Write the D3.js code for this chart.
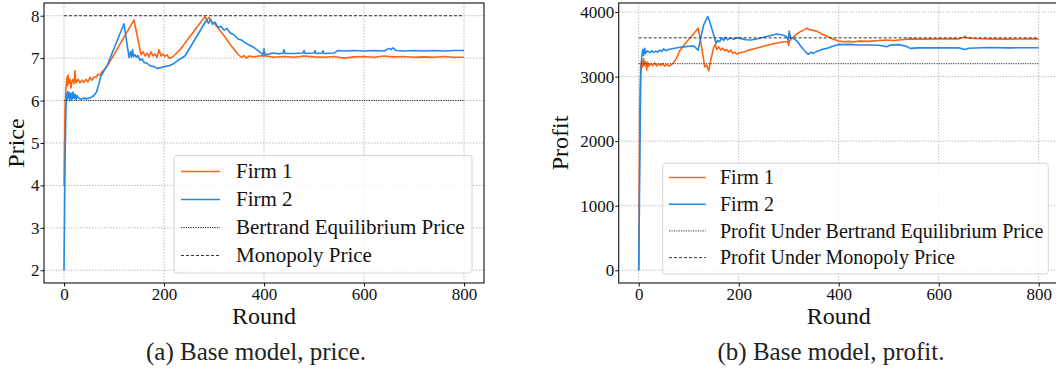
<!DOCTYPE html>
<html><head><meta charset="utf-8">
<script src="https://cdn.jsdelivr.net/npm/d3@7/dist/d3.min.js"></script>
<style>
html,body{margin:0;padding:0;background:#fff;}
svg{display:block;font-family:"Liberation Serif","Times New Roman",serif;}
svg text{font-family:"Liberation Serif","Times New Roman",serif;}
</style></head>
<body>
<svg id="chart" width="1056" height="371"></svg>
<script>
// ---------- DATA ----------
const roundTicks = [0, 200, 400, 600, 800];
const priceTicks = [2, 3, 4, 5, 6, 7, 8];
const profitTicks = [0, 1000, 2000, 3000, 4000];
const seriesNames = ["Firm 1", "Firm 2"];
const priceRefNames = ["Bertrand Equilibrium Price", "Monopoly Price"];
const profitRefNames = ["Profit Under Bertrand Equilibrium Price", "Profit Under Monopoly Price"];
const bertrandPrice = 6, monopolyPrice = 8;
const bertrandProfit = 3200, monopolyProfit = 3600;
const lastRound = 800;

// [round, price]
const priceFirm1 = [[0,4.0],[2,5.8],[4,6.3],[6,6.55],[7,6.35],[8,6.6],[10,6.4],[12,6.5],[14,6.3],[16,6.45],[18,6.5],[20,6.4],[22,6.7],[24,6.42],[28,6.5],[32,6.42],[36,6.48],[40,6.43],[44,6.5],[48,6.44],[52,6.55],[56,6.48],[60,6.56],[64,6.55],[68,6.62],[72,6.6],[76,6.68],[82,6.75],[88,6.84],[140,7.9],[154,7.08],[158,7.15],[162,7.05],[166,7.12],[170,7.03],[174,7.15],[178,7.05],[182,7.1],[186,7.02],[190,7.2],[194,7.05],[198,7.1],[202,7.04],[206,7.08],[210,7.0],[216,7.02],[222,7.08],[232,7.2],[282,7.98],[286,7.9],[290,7.96],[296,7.85],[302,7.8],[310,7.68],[322,7.5],[335,7.28],[349,7.08],[355,7.02],[360,7.06],[365,7.0],[370,7.05],[380,7.03],[390,7.05],[400,7.06],[420,7.02],[440,7.04],[460,7.02],[480,7.05],[500,7.03],[520,7.02],[540,7.04],[560,7.0],[580,7.03],[600,7.04],[620,7.02],[640,7.05],[660,7.03],[680,7.04],[700,7.02],[720,7.03],[740,7.02],[760,7.04],[780,7.02],[800,7.02]];
const priceFirm2 = [[0,2.0],[2,4.5],[4,5.9],[5,6.15],[6,6.0],[7,6.2],[8,6.05],[10,6.2],[12,6.0],[14,6.18],[16,6.02],[18,6.2],[20,6.05],[22,6.15],[24,6.02],[26,6.12],[30,6.05],[35,6.03],[40,6.06],[45,6.04],[50,6.06],[55,6.08],[60,6.12],[65,6.2],[70,6.4],[73,6.55],[76,6.62],[80,6.7],[86,6.82],[120,7.81],[130,7.02],[133,7.15],[135,7.02],[137,7.2],[139,7.04],[142,7.08],[145,7.02],[148,7.06],[152,6.95],[156,6.98],[160,6.9],[166,6.88],[172,6.82],[180,6.8],[186,6.76],[192,6.77],[200,6.8],[210,6.82],[218,6.86],[228,6.95],[242,7.05],[285,7.9],[289,7.82],[293,7.92],[297,7.8],[302,7.85],[308,7.72],[314,7.75],[320,7.66],[326,7.7],[332,7.6],[340,7.55],[348,7.45],[356,7.42],[364,7.35],[372,7.3],[380,7.25],[390,7.16],[398,7.08],[400,7.22],[402,7.08],[410,7.1],[420,7.12],[430,7.1],[438,7.12],[440,7.2],[442,7.11],[460,7.11],[478,7.12],[480,7.18],[482,7.11],[500,7.12],[502,7.18],[504,7.11],[516,7.12],[518,7.17],[520,7.11],[540,7.12],[548,7.18],[560,7.17],[580,7.18],[600,7.17],[620,7.18],[640,7.17],[650,7.23],[654,7.2],[658,7.24],[664,7.18],[680,7.17],[700,7.18],[720,7.17],[740,7.18],[760,7.17],[780,7.18],[800,7.18]];

// [round, profit]
const profitFirm1 = [[0,0],[2,2500],[4,3150],[6,3250],[8,3150],[10,3280],[12,3170],[14,3230],[16,3100],[18,3220],[20,3160],[24,3200],[28,3170],[32,3210],[36,3165],[40,3195],[44,3175],[48,3200],[52,3160],[56,3190],[60,3165],[64,3180],[68,3200],[72,3240],[76,3290],[82,3400],[90,3480],[98,3560],[106,3630],[119,3750],[126,3450],[132,3150],[136,3180],[140,3090],[144,3250],[150,3450],[153,3500],[156,3420],[160,3460],[164,3410],[168,3440],[172,3400],[176,3420],[180,3380],[184,3410],[188,3360],[192,3380],[196,3350],[202,3370],[210,3380],[220,3410],[235,3440],[250,3470],[270,3510],[290,3540],[298,3540],[300,3480],[302,3560],[308,3600],[316,3660],[324,3700],[330,3720],[336,3750],[340,3730],[346,3720],[356,3705],[366,3660],[379,3617],[390,3580],[399,3550],[410,3540],[420,3545],[430,3535],[440,3550],[460,3545],[480,3560],[496,3566],[510,3560],[530,3575],[543,3585],[560,3580],[600,3585],[640,3585],[650,3610],[653,3625],[656,3600],[670,3590],[700,3585],[740,3580],[780,3585],[800,3585]];
const profitFirm2 = [[0,0],[2,1500],[4,3000],[6,3300],[8,3420],[10,3330],[12,3440],[14,3360],[18,3400],[22,3370],[26,3400],[30,3375],[34,3395],[38,3380],[42,3410],[46,3390],[50,3430],[54,3400],[60,3420],[66,3430],[72,3440],[80,3450],[90,3460],[100,3470],[110,3475],[119,3410],[124,3600],[130,3800],[136,3900],[138,3930],[142,3850],[148,3700],[155,3514],[158,3560],[162,3540],[166,3600],[170,3560],[174,3610],[178,3570],[184,3600],[190,3580],[196,3600],[203,3592],[215,3570],[225,3566],[240,3590],[256,3620],[276,3659],[290,3640],[296,3617],[299,3560],[301,3705],[304,3600],[310,3590],[318,3540],[324,3470],[332,3400],[339,3344],[345,3380],[349,3360],[356,3390],[366,3420],[376,3437],[388,3470],[399,3499],[410,3495],[423,3499],[440,3490],[460,3490],[480,3485],[496,3463],[503,3488],[520,3495],[535,3470],[543,3437],[560,3445],[600,3445],[640,3445],[653,3421],[660,3440],[700,3450],[740,3445],[780,3448],[800,3447]];

// ---------- STYLE ----------
const FONT = "Liberation Serif";
const colors = ["#ff6410", "#2288ea"];
const refColor = "#333";
const svg = d3.select("#chart");

function panel(cfg) {
  const x = d3.scaleLinear().domain([-40, 840]).range(cfg.xr);
  const y = d3.scaleLinear().domain(cfg.yd).range([283, 3]);
  const g = svg.append("g");
  const [x0, x1] = cfg.xr;

  // grid
  g.append("g").selectAll("line").data(roundTicks).join("line")
    .attr("x1", d => x(d)).attr("x2", d => x(d)).attr("y1", 3).attr("y2", 283)
    .attr("stroke", "#b4b4b4").attr("stroke-width", 0.9).attr("stroke-dasharray", "1.5,1.5");
  g.append("g").selectAll("line").data(cfg.yticks).join("line")
    .attr("x1", x0).attr("x2", x1).attr("y1", d => y(d)).attr("y2", d => y(d))
    .attr("stroke", "#b4b4b4").attr("stroke-width", 0.9).attr("stroke-dasharray", "1.5,1.5");

  // series
  const line = d3.line().x(d => x(d[0])).y(d => y(d[1]));
  cfg.series.forEach((s, i) => {
    g.append("path").datum(s).attr("d", line).attr("fill", "none")
      .attr("stroke", colors[i]).attr("stroke-width", 1.6).attr("stroke-linejoin", "round");
  });
  // reference lines
  const refs = [{v: cfg.refs[0], dash: "1.2,1.2"}, {v: cfg.refs[1], dash: "3,2"}];
  refs.forEach(r => {
    g.append("line").attr("x1", x(0)).attr("x2", x(lastRound)).attr("y1", y(r.v)).attr("y2", y(r.v))
      .attr("stroke", refColor).attr("stroke-width", 1).attr("stroke-dasharray", r.dash);
  });

  // axes
  const fmt = d3.format("d");
  const xa = g.append("g").attr("transform", "translate(0,283)")
    .call(d3.axisBottom(x).tickValues(roundTicks).tickFormat(fmt).tickSize(3.5).tickPadding(1.5).tickSizeOuter(0));
  const ya = g.append("g").attr("transform", `translate(${x0},0)`)
    .call(d3.axisLeft(y).tickValues(cfg.yticks).tickFormat(fmt).tickSize(3.5).tickPadding(1).tickSizeOuter(0));
  [xa, ya].forEach(a => {
    a.attr("font-family", FONT).attr("font-size", 17);
    a.select(".domain").remove();
    a.selectAll("text").style("font-family", FONT).style("font-size", "17px").attr("fill", "#111");
    a.selectAll("line").attr("stroke", "#111");
  });
  // frame
  g.append("rect").attr("x", x0).attr("y", 3).attr("width", x1 - x0).attr("height", 280)
    .attr("fill", "none").attr("stroke", "#111").attr("stroke-width", 1.1);

  // labels
  g.append("text").attr("x", (x0 + x1) / 2).attr("y", 323.5).attr("text-anchor", "middle")
    .attr("font-size", 24).attr("fill", "#111").text("Round");
  g.append("text").attr("transform", `translate(${cfg.ylabX},143) rotate(-90)`).attr("text-anchor", "middle")
    .attr("dy", "0.35em").attr("font-size", 24).attr("fill", "#111").text(cfg.ylabel);
  g.append("text").attr("x", cfg.capX).attr("y", 360).attr("text-anchor", "middle")
    .attr("font-size", 25).attr("fill", "#222").text(cfg.caption);

  // legend
  const L = cfg.legend;
  g.append("rect").attr("x", L.x).attr("y", L.y).attr("width", L.w).attr("height", L.h)
    .attr("rx", 3).attr("fill", "#fff").attr("fill-opacity", 0.8).attr("stroke", "#d4d4d4");
  const names = seriesNames.concat(cfg.refNames);
  const styles = [
    {c: colors[0], w: 1.5, dash: null}, {c: colors[1], w: 1.5, dash: null},
    {c: refColor, w: 1, dash: "1.2,1.2"}, {c: refColor, w: 1, dash: "3,2"}];
  names.forEach((n, i) => {
    const yy = L.y0 + i * L.dy;
    g.append("line").attr("x1", L.hx0).attr("x2", L.hx1).attr("y1", yy).attr("y2", yy)
      .attr("stroke", styles[i].c).attr("stroke-width", styles[i].w)
      .attr("stroke-dasharray", styles[i].dash);
    g.append("text").attr("x", L.tx).attr("y", yy).attr("dy", "0.33em")
      .attr("font-size", L.fs).attr("fill", "#111").text(n);
  });
}

panel({
  xr: [44, 484], yd: [1.7, 8.3], yticks: priceTicks,
  series: [priceFirm1, priceFirm2], refs: [bertrandPrice, monopolyPrice],
  ylabel: "Price", ylabX: 16, caption: "(a) Base model, price.", capX: 256,
  refNames: priceRefNames,
  legend: {x: 174, y: 155.5, w: 298, h: 117.5, y0: 171.5, dy: 28, hx0: 181, hx1: 220, tx: 236, fs: 21}
});
panel({
  xr: [618.7, 1058.7], yd: [-197, 4140], yticks: profitTicks,
  series: [profitFirm1, profitFirm2], refs: [bertrandProfit, monopolyProfit],
  ylabel: "Profit", ylabX: 560, caption: "(b) Base model, profit.", capX: 831,
  refNames: profitRefNames,
  legend: {x: 662.7, y: 163.3, w: 385.6, h: 110.7, y0: 177.5, dy: 26.7, hx0: 669, hx1: 705.7, tx: 720, fs: 20}
});
</script>
</body></html>
